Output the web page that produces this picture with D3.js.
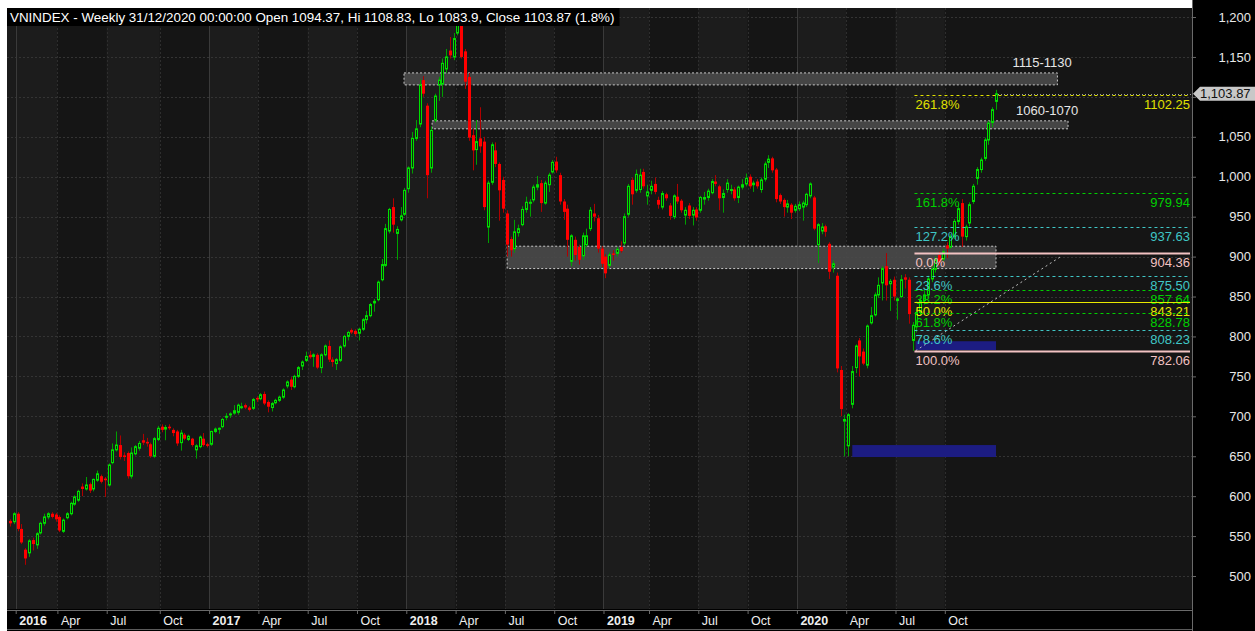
<!DOCTYPE html>
<html>
<head>
<meta charset="utf-8">
<script src="https://cdn.jsdelivr.net/npm/d3@7"></script>
<style>
  body { margin: 0; background: #fff; }
  svg { display: block; font-family: "Liberation Sans", Arial, sans-serif; }
</style>
</head>
<body>
<script>
// weekly VNINDEX bars, Dec 2015 .. 31/12/2020
const open = [569,568,578,559,533,529,545,539,554,566, 574,578,577,574,556,573,578,590,595,612,
  609,615,609,620,625,622,614,642,658,664, 651,654,625,653,660,670,668,665,650,671,
  687,684,687,683,681,667,677,671,672,658, 662,672,665,665,681,684,687,699,702,704,
  705,711,714,711,710,723,722,728,718,711, 717,720,724,738,746,737,750,763,770,777,
  775,777,761,777,788,771,766,770,788,800, 808,807,804,809,821,826,842,846,871,889,
  932,962,929,946,953,985,1011,1048,1066,1121, 1089,1011,1071,1115,1116,1135,1158,1150,1180,1192,
  1157,1125,1052,1034,1048,1044,937,993,1033,1016, 996,954,922,910,930,940,959,967,971,987,
  992,967,990,1006,1019,1002,969,960,894,921, 912,901,915,935,954,948,910,900,889,904,
  904,912,917,953,996,983,984,1006,976,983, 991,971,962,978,964,950,975,970,952,964,
  952,959,958,972,974,980,994,988,974,984, 983,984,974,987,991,1000,990,994,984,997,
  1018,1023,1009,977,971,962,965,958,960,962, 965,976,974,915,932,938,916,887,876,758,
  694,663,715,761,795,781,764,817,827,852, 867,888,866,871,845,850,874,871,795,812,
  830,845,852,872,884,902,897,914,912,925, 944,967,925,942,969,998,1009,1023,1046,1068,
  1094.37];
const high = [571,580,580,565,535,546,548,555,568,578, 580,580,579,576,572,580,593,601,608,616,
  624,617,622,632,627,624,641,666,681,676, 655,656,661,664,669,678,673,667,674,688,
  690,689,690,685,683,683,679,677,673,665, 676,679,667,682,686,686,698,704,705,714,
  716,717,716,713,723,725,729,731,720,718, 722,726,735,745,749,752,763,770,781,782,
  779,779,779,790,795,774,773,789,802,807, 810,809,811,823,832,842,847,870,897,941,
  961,973,938,962,986,1013,1056,1071,1122,1126, 1092,1063,1104,1125,1148,1160,1175,1180,1204,1200,
  1160,1130,1060,1071,1087,1050,995,1043,1043,1018, 1000,958,925,946,940,963,975,972,990,1001,
  996,995,1005,1021,1025,1005,972,965,928,925, 915,930,935,962,966,952,913,903,905,908,
  912,919,954,991,999,1009,1010,1010,990,995, 999,975,982,980,967,978,991,972,962,967,
  962,962,976,981,985,997,1002,990,984,997, 990,987,989,997,1004,1003,995,997,999,1019,
  1027,1025,1011,979,973,971,967,966,969,970, 980,993,976,942,942,940,918,895,880,763,
  702,704,763,790,798,785,815,837,855,874, 888,904.36,872,875,849,877,878,874,818,835,
  848,858,876,888,900,906,910,918,928,947, 966,972,940,968,991,1012,1024,1049,1070,1087,
  1108.83];
const low = [562,565,556,540,514,524,532,534,552,563, 571,572,568,555,554,571,576,588,593,600,
  607,604,606,618,616,599,612,640,656,646, 644,622,622,651,657,664,662,648,648,669,
  680,670,683,675,663,657,670,669,662,647, 660,662,661,663,679,678,685,695,698,702,
  702,709,709,706,708,718,720,714,705,706, 715,718,722,735,733,735,748,758,768,772,
  762,759,754,775,768,762,758,768,786,795, 803,800,795,807,816,824,831,844,869,887,
  929,930,896,944,951,980,1004,1045,1062,1100, 973,1005,1068,1095,1100,1130,1148,1146,1177,1148,
  1110,1045,1008,1015,1030,958,917,990,1012,945, 955,900,900,905,925,938,955,950,968,983,
  956,965,981,1004,1005,965,946,900,888,895, 890,896,912,932,944,905,887,873,885,895,
  900,905,914,950,965,980,980,985,965,978, 978,960,959,970,946,947,966,955,940,947,
  939,945,955,965,970,978,988,958,955,980, 978,970,967,984,988,985,981,985,980,994,
  1011,1005,968,966,950,955,947,955,957,945, 962,973,933,892,928,925,872,880,755,700,
  650,650,710,754,750,764,760,815,825,848, 845,845,832,845,821,848,860,816,782.06,805,
  826,840,850,868,880,889,894,898,910,922, 940,912,920,938,966,990,1005,1020,1040,1062,
  1083.9];
const close = [566,578,559,542,522,544,540,553,566,574, 578,574,571,557,570,578,591,599,606,609,
  614,607,621,628,618,620,639,658,664,649, 649,625,654,662,666,667,666,650,672,685,
  683,686,685,679,666,679,672,675,664,663, 674,664,663,681,684,685,696,700,703,707,
  714,712,711,708,721,721,727,716,712,716, 720,724,733,743,737,750,761,768,775,774,
  777,761,777,788,771,768,771,787,800,805, 805,803,809,821,826,840,844,868,890,935,
  959,940,934,951,983,1011,1048,1060,1115,1104, 1002,1058,1101,1121,1142,1150,1152,1173,1190,1150,
  1119,1049,1033,1044,1038,962,992,1040,1016,983, 960,915,908,931,935,959,968,968,987,990,
  967,992,1002,1018,1008,969,956,921,926,902, 896,926,926,958,950,910,891,879,902,902,
  909,907,950,988,978,1003,1002,988,981,988, 981,965,979,973,951,976,969,958,958,951,
  958,949,974,974,982,994,991,973,979,992, 984,973,987,990,998,988,992,988,996,1016,
  1022,1008,972,969,962,966,955,963,965,967, 978,991,935,940,937,931,881,891,760,709,
  696,702,756,788,775,766,813,826,852,864, 885,864,869,850,847,871,871,828,814,830,
  845,852,872,884,896,893,906,910,925,944, 960,925,937,965,988,1009,1021,1046,1067,1084,
  1103.87];

// x axis: first bar of each quarter
const tickBars   = [2, 13, 26, 40, 53, 66, 79, 92, 105, 118, 131, 144, 157, 169, 182, 195, 208, 221, 234, 247];
const tickLabels = ['2016','Apr','Jul','Oct','2017','Apr','Jul','Oct','2018','Apr','Jul','Oct','2019','Apr','Jul','Oct','2020','Apr','Jul','Oct'];
const priceTicks = [500,550,600,650,700,750,800,850,900,950,1000,1050,1100,1150,1200];

// grey support/resistance zones
const zoneLo    = [1115, 1060, 885];
const zoneHi    = [1130, 1070, 913];
const zoneFrom  = [103.9, 111.3, 131.1];
const zoneTo    = [276.2, 279.0, 260.0];
const zoneLabel = ['1115-1130', '1060-1070', ''];

// blue target boxes
const blueLo   = [783, 649];
const blueHi   = [794, 664];
const blueFrom = [238.8, 222.1];
const blueTo   = [260.0, 260.0];

// fibonacci levels
const fibPct = ['261.8%','161.8%','127.2%','0.0%','23.6%','38.2%','50.0%','61.8%','78.6%','100.0%'];
const fibVal = [1102.25, 979.94, 937.63, 904.36, 875.50, 857.64, 843.21, 828.78, 808.23, 782.06];
const fibCol = ['#e0e000','#00d000','#3fc6c6','#f2c2c2','#3fc6c6','#00d000','#e8e800','#00d000','#3fc6c6','#f2c2c2'];
const fibSolid = [false,false,false,true,false,false,true,false,false,true];
const fibFromBar = 238.5;
const trendFrom = [238.8, 782.06];
const trendTo   = [277.4, 901];

const W = 1255, H = 631;
const L = 7, R = 1192, T = 8, B = 609;
const n = close.length;

const svg = d3.select('body').append('svg').attr('width', W).attr('height', H);

const xs = d3.scaleLinear().domain([0, n - 1]).range([10, 996]);
const ys = d3.scaleLinear().domain([458.7, 1211.3]).range([B, T]);

// frame
svg.append('rect').attr('width', W).attr('height', H).attr('fill', '#fff');
svg.append('rect').attr('x', R).attr('y', 0).attr('width', W - R).attr('height', H).attr('fill', '#000');
svg.append('rect').attr('x', L).attr('y', B).attr('width', R - L).attr('height', H - B).attr('fill', '#000');
svg.append('rect').attr('x', L).attr('y', T).attr('width', R - L).attr('height', B - T).attr('fill', '#1b1b1b');

// quarter shading
const qEdges = tickBars.map(b => xs(b - 0.5)).concat([R]);
svg.append('g').selectAll('rect').data(tickBars).join('rect')
  .attr('x', (d, i) => xs(d - 0.5))
  .attr('y', T)
  .attr('width', (d, i) => qEdges[i + 1] - qEdges[i])
  .attr('height', B - T)
  .attr('fill', (d, i) => i % 2 ? '#151515' : '#1c1c1c');

// grid
const grid = svg.append('g');
grid.selectAll('line.h').data(priceTicks).join('line')
  .attr('x1', L).attr('x2', R)
  .attr('y1', d => Math.round(ys(d)) + 0.5).attr('y2', d => Math.round(ys(d)) + 0.5)
  .attr('stroke', '#343434').attr('stroke-dasharray', '2,2');
grid.selectAll('line.v').data(tickBars).join('line')
  .attr('x1', d => Math.round(xs(d - 0.5)) + 0.5).attr('x2', d => Math.round(xs(d - 0.5)) + 0.5)
  .attr('y1', T).attr('y2', B)
  .attr('stroke', (d, i) => i % 4 === 0 ? '#3a3a3a' : '#2e2e2e')
  .attr('stroke-dasharray', (d, i) => i % 4 === 0 ? null : '2,2');

// zones
const zones = svg.append('g');
const labelShift = [45, 52, 0];
zoneLo.forEach((lo, i) => {
  zones.append('rect')
    .attr('x', xs(zoneFrom[i])).attr('y', ys(zoneHi[i]))
    .attr('width', xs(zoneTo[i]) - xs(zoneFrom[i])).attr('height', ys(lo) - ys(zoneHi[i]))
    .attr('fill', '#4a4a4a').attr('fill-opacity', 0.9)
    .attr('stroke', '#c8c8c8').attr('stroke-dasharray', '2,2');
  if (zoneLabel[i]) {
    zones.append('text').attr('x', xs(zoneTo[i]) - labelShift[i]).attr('y', ys(zoneHi[i]) - 6)
      .attr('fill', '#e6e6e6').attr('font-size', 13)
      .text(zoneLabel[i]);
  }
});
blueLo.forEach((lo, i) => {
  zones.append('rect')
    .attr('x', xs(blueFrom[i])).attr('y', ys(blueHi[i]))
    .attr('width', xs(blueTo[i]) - xs(blueFrom[i])).attr('height', ys(lo) - ys(blueHi[i]))
    .attr('fill', '#1c1c82');
});

// candles
const bars = d3.range(n).map(i => ({
  i, o: open[i], c: close[i],
  h: Math.max(high[i], open[i], close[i]), l: Math.min(low[i], open[i], close[i])
}));
const cg = svg.append('g');
const cx = d => Math.round(xs(d.i)) + 0.5;
cg.selectAll('line').data(bars).join('line')
  .attr('x1', cx).attr('x2', cx)
  .attr('y1', d => ys(d.h)).attr('y2', d => ys(d.l))
  .attr('stroke', d => d.c >= d.o ? '#00a000' : '#b00000');
cg.selectAll('rect.up').data(bars.filter(d => d.c >= d.o)).join('rect')
  .attr('x', d => cx(d) - 1).attr('width', 2)
  .attr('y', d => ys(d.c)).attr('height', d => Math.max(1, ys(d.o) - ys(d.c)))
  .attr('fill', '#0f2a0f').attr('stroke', '#00e000');
cg.selectAll('rect.dn').data(bars.filter(d => d.c < d.o)).join('rect')
  .attr('x', d => cx(d) - 1.5).attr('width', 3)
  .attr('y', d => ys(d.o)).attr('height', d => Math.max(1, ys(d.c) - ys(d.o)))
  .attr('fill', '#ff0000');

// fibonacci
const fg = svg.append('g');
fg.append('line')
  .attr('x1', xs(trendFrom[0])).attr('y1', ys(trendFrom[1]))
  .attr('x2', xs(trendTo[0])).attr('y2', ys(trendTo[1]))
  .attr('stroke', '#bdbdbd').attr('stroke-dasharray', '2,3');
fibVal.forEach((v, i) => {
  const y = Math.round(ys(v)) + 0.5;
  fg.append('line').attr('x1', xs(fibFromBar)).attr('x2', R - 2).attr('y1', y).attr('y2', y)
    .attr('stroke', fibCol[i]).attr('stroke-width', fibSolid[i] && i !== 6 ? 2 : 1)
    .attr('stroke-dasharray', fibSolid[i] ? null : '3,3');
  fg.append('text').attr('x', xs(fibFromBar) + 1).attr('y', y + 13)
    .attr('fill', fibCol[i]).attr('font-size', 13).text(fibPct[i]);
  fg.append('text').attr('x', R - 2).attr('y', y + 13).attr('text-anchor', 'end')
    .attr('fill', fibCol[i]).attr('font-size', 13).text(d3.format('.2f')(v));
});

// last price line
const last = close[n - 1];
svg.append('line').attr('x1', xs(n - 1) + 2).attr('x2', R)
  .attr('y1', Math.round(ys(last)) + 0.5).attr('y2', Math.round(ys(last)) + 0.5)
  .attr('stroke', '#a0a0a0').attr('stroke-dasharray', '1,2');

// right axis (the 1,100 label sits under the price tag)
const ya = svg.append('g').attr('transform', `translate(${R},0)`)
  .call(d3.axisRight(ys).tickValues(priceTicks)
    .tickFormat(d => d === 1100 ? '' : d3.format(',')(d)).tickSize(4));
ya.select('.domain').attr('stroke', '#6a6a6a').attr('d', `M0.5,0V${H}`);
ya.selectAll('.tick line').attr('stroke', '#6a6a6a');
ya.selectAll('.tick text').attr('x', 59).attr('text-anchor', 'end')
  .attr('fill', '#e8e8e8').attr('font-size', 13).attr('font-family', 'Liberation Sans, Arial, sans-serif');

// last price tag
const ly = ys(last);
svg.append('path')
  .attr('d', `M${R + 1},${ly} L${R + 8},${ly - 7} H${W} V${ly + 7} H${R + 8} Z`)
  .attr('fill', '#c8c8c8');
svg.append('text').attr('x', R + 8).attr('y', ly + 4.5).attr('fill', '#111')
  .attr('font-size', 13).text(d3.format(',.2f')(last));

// bottom axis
const xa = svg.append('g').attr('transform', `translate(0,${B + 1})`)
  .call(d3.axisBottom(xs).tickValues(tickBars.map(b => b - 0.5)).tickSize(4)
    .tickFormat((d, i) => tickLabels[i]));
xa.select('.domain').attr('stroke', '#6a6a6a').attr('d', `M${L},0.5H${R}`);
xa.selectAll('.tick line').attr('stroke', '#6a6a6a');
xa.selectAll('.tick text').attr('x', 3).attr('y', 4).attr('dy', '0.9em')
  .attr('text-anchor', 'start').attr('fill', '#eeeeee').attr('font-size', 12.5)
  .attr('font-family', 'Liberation Sans, Arial, sans-serif')
  .attr('font-weight', (d, i) => i % 4 === 0 ? 'bold' : 'normal');
svg.append('line').attr('x1', L).attr('x2', R).attr('y1', H - 1.5).attr('y2', H - 1.5).attr('stroke', '#5a5a5a');

// title
const title = `VNINDEX - Weekly 31/12/2020 00:00:00 Open ${open[n - 1]}, Hi ${high[n - 1]}, Lo ${low[n - 1]}, Close ${close[n - 1]} (${d3.format('.1f')((close[n - 1] / close[n - 2] - 1) * 100)}%)`;
const tbox = svg.append('rect').attr('x', L).attr('y', T).attr('height', 18).attr('fill', '#000');
const tt = svg.append('text').attr('x', 10).attr('y', 22).attr('fill', '#fff').attr('font-size', 13.4).text(title);
tbox.attr('width', tt.node().getComputedTextLength() + 8);
</script>
</body>
</html>
